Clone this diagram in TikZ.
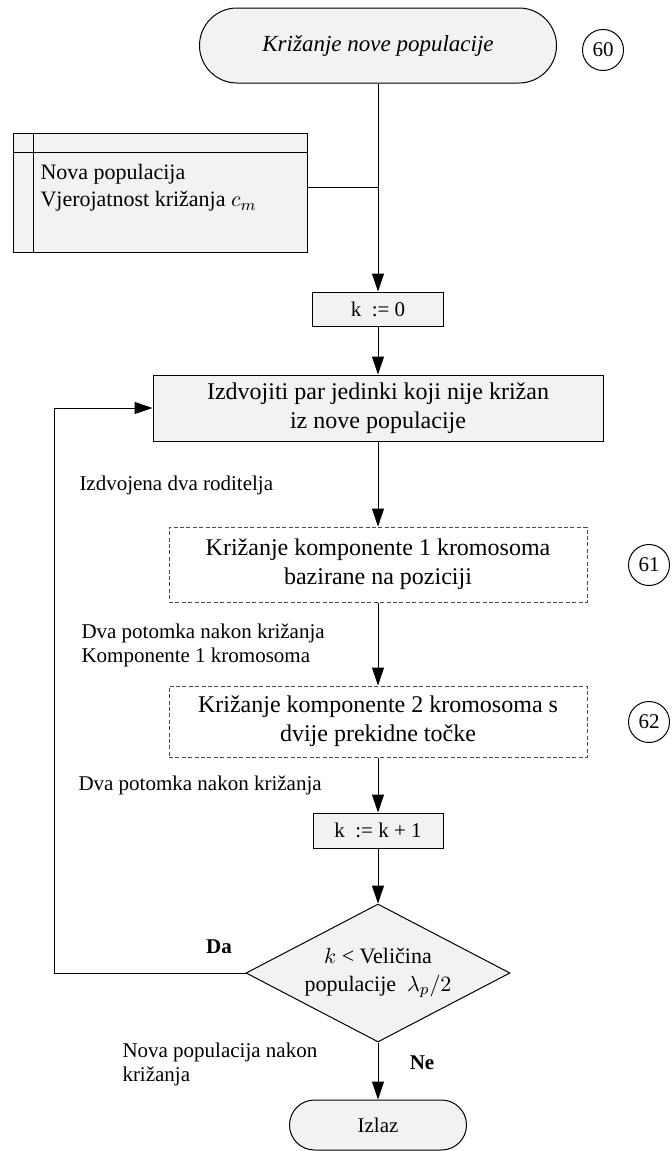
\documentclass[tikz,border=0pt]{standalone}
\usepackage{fontspec}
\setmainfont{Liberation Serif}
\usetikzlibrary{arrows.meta,positioning,shapes.geometric,shapes.misc}
\definecolor{boxgray}{RGB}{242,242,242}

\begin{document}
\begin{tikzpicture}[
  x=0.5pt, y=-0.5pt,
  >={Triangle[length=9pt,width=6pt]},
  line width=0.5pt,
  every node/.style={font=\fontsize{10.5}{13.5}\selectfont, inner sep=0pt},
  boxfont/.style={font=\fontsize{12}{14.5}\selectfont},
  terminal/.style={draw, fill=boxgray, rounded rectangle},
  procbox/.style={draw, fill=boxgray, rectangle, align=center},
  subbox/.style={draw=black!70, dash pattern=on 2pt off 1.2pt, rectangle,
                 align=center, minimum width=209pt, boxfont},
  decision/.style={draw, fill=boxgray, diamond, aspect=1.9, align=center},
  numcirc/.style={draw, circle, minimum size=20.5pt},
  note/.style={anchor=west, align=left},
  answer/.style={font=\fontsize{10.5}{13.5}\selectfont\bfseries},
]
\useasboundingbox (0,0) rectangle (672,1151);

% Start and input data
\node[terminal, minimum width=178.5pt, minimum height=37.5pt, font=\fontsize{11.5}{13.5}\selectfont\itshape]
  (start) at (378,45.5) {Križanje nove populacije};
\node[numcirc] (n60) at (603,50) {60};

\node[draw, fill=boxgray, minimum width=147pt, minimum height=59.5pt] (data) at (160,192.5) {};
\draw ([xshift=10.5pt]data.north west) -- ([xshift=10.5pt]data.south west);
\draw ([yshift=-10pt]data.north west) -- ([yshift=-10pt]data.north east);
\node[note, font=\fontsize{11}{13.5}\selectfont] (datatext) at (40,188)
  {Nova populacija\\Vjerojatnost križanja $c_m$};
\coordinate (join) at (378,187);

% Main column
\node[procbox, minimum width=65.5pt, minimum height=17pt] (k0) at (378,309) {k\enspace:= 0};
\node[procbox, boxfont, minimum width=225pt, minimum height=33pt] (pick) at (378,408)
  {Izdvojiti par jedinki koji nije križan\\iz nove populacije};
\node[subbox, minimum height=37.5pt] (cross1) at (378,564.5)
  {Križanje komponente 1 kromosoma\\bazirane na poziciji};
\node[numcirc] (n61) at (649,565) {61};
\node[subbox, minimum height=35.5pt] (cross2) at (378,721.5)
  {Križanje komponente 2 kromosoma s\\dvije prekidne točke};
\node[numcirc] (n62) at (649,722) {62};
\node[procbox, minimum width=65pt, minimum height=17.5pt] (k1) at (378,830.5) {k\enspace:= k + 1};
\node[decision, minimum width=132pt, minimum height=69pt,
      font=\fontsize{11}{14}\selectfont] (dec) at (378,973)
  {$k$ < Veličina\\populacije\enspace$\lambda_p/2$};
\node[terminal, minimum width=88.5pt, minimum height=25pt] (exit) at (378,1125) {Izlaz};

% Flow labels
\node[note] (lbl1) at (79,485) {Izdvojena dva roditelja};
\node[note, font=\fontsize{10.5}{12}\selectfont] (lbl2) at (81,645)
  {Dva potomka nakon križanja\\Komponente 1 kromosoma};
\node[note] (lbl3) at (78,785) {Dva potomka nakon križanja};
\node[note, font=\fontsize{10.5}{12}\selectfont] (lbl4) at (122,1064)
  {Nova populacija nakon\\križanja};
\node[answer] (yes) at (219,947) {Da};
\node[answer] (no) at (422,1063) {Ne};
\coordinate (loop) at (54,0);

% Connectors
\draw[->] (start.south) -- (k0.north);
\draw (data.east |- join) -- (join);
\draw[->] (k0.south) -- (pick.north);
\draw[->] (pick.south) -- (cross1.north);
\draw[->] (cross1.south) -- (cross2.north);
\draw[->] (cross2.south) -- (k1.north);
\draw[->] (k1.south) -- (dec.north);
\draw[->] (dec.south) -- (exit.north);
\draw[->] (dec.west) -- (dec.west -| loop) |- (pick.west);
\end{tikzpicture}
\end{document}
